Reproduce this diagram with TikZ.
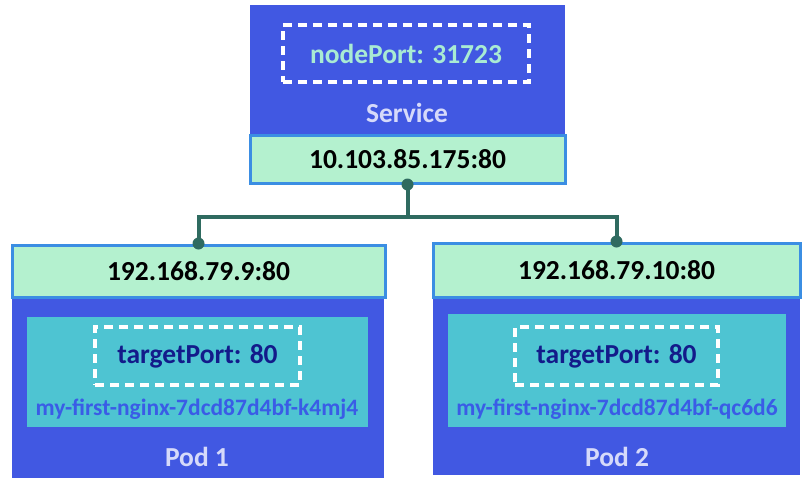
\documentclass[tikz,border=0pt]{standalone}
\usepackage{fontspec}
\setmainfont{Carlito}
\definecolor{kblue}{HTML}{4158E2}
\definecolor{kedge}{HTML}{3B8EE3}
\definecolor{kgreen}{HTML}{B4F1CF}
\definecolor{kteal}{HTML}{4EC4D2}
\definecolor{kline}{HTML}{2F6B60}
\definecolor{knavy}{HTML}{131B8A}
\definecolor{kname}{HTML}{3A5CE6}
\definecolor{kport}{HTML}{A9EBD3}
\definecolor{klabel}{HTML}{D6DAFA}
\begin{document}
\begin{tikzpicture}[x=1pt,y=-1pt,font=\bfseries\fontsize{27.5}{32}\selectfont,
  bluebox/.style={fill=kblue,inner sep=0pt},
  ipbox/.style={fill=kgreen,draw=kedge,line width=3pt,inner sep=0pt},
  podbox/.style={fill=kteal,inner sep=0pt},
  portbox/.style={draw=white,line width=3.5pt,dash pattern=on 9pt off 6pt,inner sep=0pt},
  podname/.style={text=kname,font=\bfseries\fontsize{23.5}{28}\selectfont},
  link/.style={draw=kline,line width=4pt}]
  \useasboundingbox (0,0) rectangle (811,482);
  % service
  \node[bluebox,minimum width=315pt,minimum height=130pt] (svc) at (407.5,70) {};
  \node[portbox,minimum width=246pt,minimum height=57pt,text=kport] (nport) at (406,53.5) {nodePort: 31723};
  \node[text=klabel] (svclabel) at (407,113) {Service};
  \node[ipbox,minimum width=315pt,minimum height=48pt] (svcip) at (407.5,159) {10.103.85.175:80};
  % pod 1
  \node[bluebox,minimum width=372pt,minimum height=181pt] (pod1) at (198,387.5) {};
  \node[ipbox,minimum width=373pt,minimum height=52pt] (pod1ip) at (198.5,271) {192.168.79.9:80};
  \node[podbox,minimum width=341pt,minimum height=110pt] (c1) at (197.5,372) {};
  \node[portbox,minimum width=205pt,minimum height=58pt,text=knavy] (tport1) at (197.5,356) {targetPort: 80};
  \node[podname] (name1) at (197,409) {my-first-nginx-7dcd87d4bf-k4mj4};
  \node[text=klabel] (pod1label) at (197,457) {Pod 1};
  % pod 2
  \node[bluebox,minimum width=367pt,minimum height=178pt] (pod2) at (616.5,386) {};
  \node[ipbox,minimum width=367pt,minimum height=54pt] (pod2ip) at (616.5,270) {192.168.79.10:80};
  \node[podbox,minimum width=338pt,minimum height=113pt] (c2) at (617,370.5) {};
  \node[portbox,minimum width=203pt,minimum height=58pt,text=knavy] (tport2) at (616.5,356) {targetPort: 80};
  \node[podname] (name2) at (617,409) {my-first-nginx-7dcd87d4bf-qc6d6};
  \node[text=klabel] (pod2label) at (617,457) {Pod 2};
  % links
  \draw[link] (svcip.south) -- ++(0,32) -| (pod1ip.north);
  \draw[link] (svcip.south) -- ++(0,32) -| (pod2ip.north);
  \foreach \n in {svcip.south,pod1ip.north,pod2ip.north}{\fill[kline] (\n) circle (6pt);}
\end{tikzpicture}
\end{document}
